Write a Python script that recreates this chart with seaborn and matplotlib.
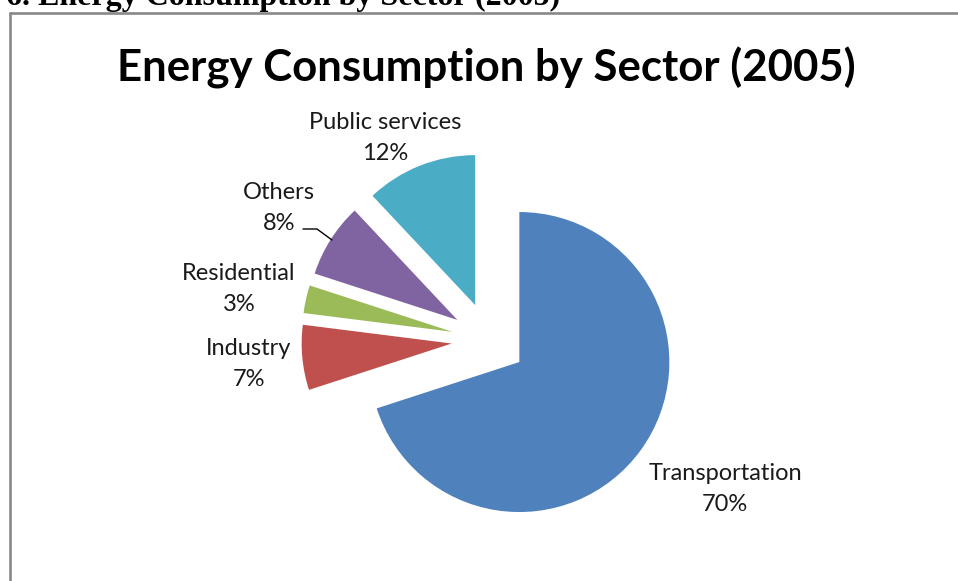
import matplotlib
matplotlib.use("Agg")
import matplotlib.pyplot as plt
from matplotlib.lines import Line2D
import seaborn as sns

sectors = ["Transportation", "Industry", "Residential", "Others", "Public services"]
shares = [70, 7, 3, 8, 12]
colors = ["#4F81BD", "#C0504D", "#9BBB59", "#8064A2", "#4BACC6"]
title = "Energy Consumption by Sector (2005)"
page_caption = "6. Energy Consumption by Sector (2005)"

sns.set_theme(style="white")
plt.rcParams['font.family'] = ['Lato', 'DejaVu Sans']

W, H = 958, 581
fig = plt.figure(figsize=(W / 100, H / 100), dpi=100)
fig.patch.set_facecolor("white")

def px(x, y):
    return (x / W, 1 - y / H)

# pie geometry (pixels): common centre and radius
cx, cy, r = 489, 340, 150
ax = fig.add_axes([0, 0, 1, 1])
palette = sns.color_palette(colors)
ax.pie(shares, colors=palette, startangle=90, counterclock=False,
       explode=[0.25] * len(shares), radius=1.0,
       wedgeprops=dict(linewidth=0))
ax.set_aspect("auto")
ax.set_xlim(-cx / r, (W - cx) / r)
ax.set_ylim((cy - H) / r, cy / r)
ax.axis("off")

# data labels
label_pos = {
    "Transportation": (725, 489),
    "Industry": (249, 364),
    "Residential": (239, 289),
    "Others": (279, 208),
    "Public services": (385, 138),
}
for name, val in zip(sectors, shares):
    x, y = label_pos[name]
    fig.text(*px(x, y), f"{name}\n{val}%", ha="center", va="center",
             fontsize=17, color="#1a1a1a", linespacing=1.55)

# leader line for Others
fig.add_artist(Line2D([303 / W, 317 / W, 332 / W],
                      [1 - 229 / H, 1 - 229 / H, 1 - 240 / H],
                      color="black", lw=1.0))

# chart title
fig.text(*px(486, 68), title, ha="center", va="center",
         fontsize=31.5, fontweight="bold", color="black")

# cropped page caption above the chart frame
fig.text(*px(6, 5), page_caption, ha="left", va="baseline",
         fontsize=23, fontweight="bold", color="black",
         family=["Liberation Serif", "DejaVu Serif"])

# chart frame
fig.add_artist(Line2D([9.5 / W, 1], [1 - 13 / H, 1 - 13 / H], color="#888888", lw=1.9))
fig.add_artist(Line2D([9.5 / W, 9.5 / W], [0, 1 - 13 / H], color="#888888", lw=1.9))

fig.savefig("out.png", dpi=100, facecolor="white")
